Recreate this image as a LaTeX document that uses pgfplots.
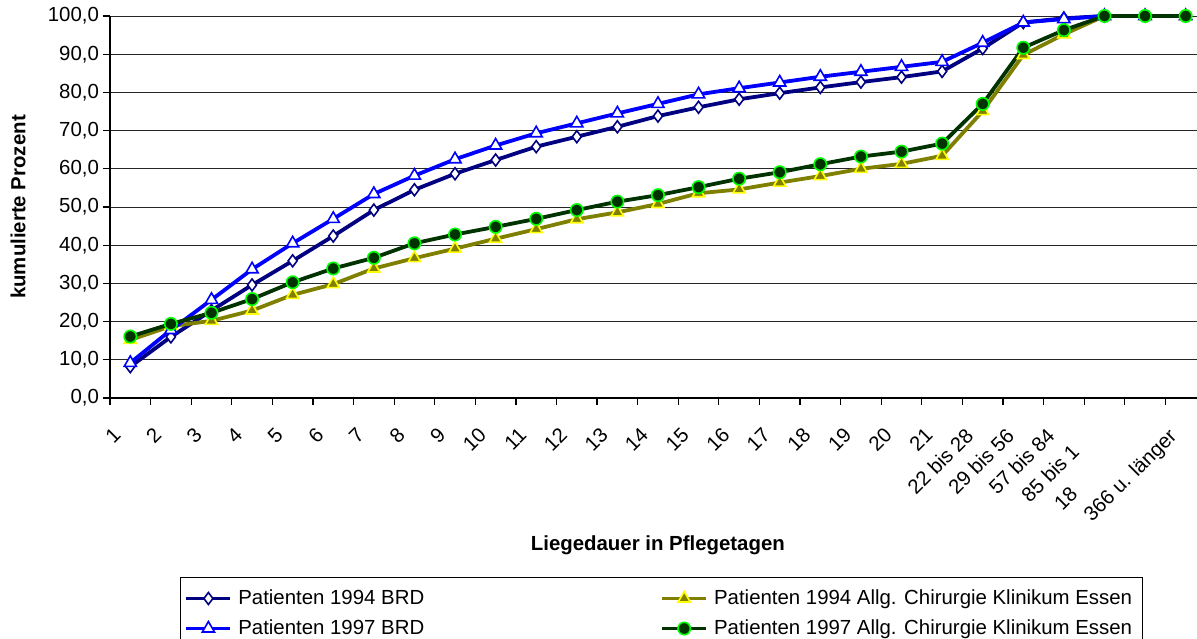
\documentclass[border=0pt]{standalone}
\usepackage{fontspec}
\setmainfont{Liberation Sans}
\usepackage{pgfplots}
\pgfplotsset{compat=1.18}
\definecolor{cNavy}{RGB}{0,0,128}
\definecolor{cBlue}{RGB}{0,0,255}
\definecolor{cOlive}{RGB}{128,128,0}
\definecolor{cYellow}{RGB}{255,255,0}
\definecolor{cDkGreen}{RGB}{0,51,0}
\definecolor{cLime}{RGB}{0,255,0}
\newcommand{\ff}{\fontsize{10.2}{12.2}\selectfont}
\begin{document}
\begin{tikzpicture}
\begin{axis}[
  scale only axis, width=543.5pt, height=191pt,
  xmin=-0.5, xmax=26.28, ymin=0, ymax=100,
  clip=false,
  axis x line*=bottom, axis y line*=left,
  axis line style={-, black, line width=0.6pt},
  tick align=outside,
  major tick length=3.5pt, minor tick length=3.5pt,
  ytick={0,10,...,100},
  xtick={0,...,26},
  xticklabels={1,2,3,4,5,6,7,8,9,10,11,12,13,14,15,16,17,18,19,20,21,22 bis 28,29 bis 56,57 bis 84,85 bis 1\phantom{82},18\phantom{3 bis 365},366 u. länger},
  minor xtick={-0.5,0.5,...,25.5},
  major x tick style={draw=none},
  minor x tick style={black, line width=0.6pt},
  y tick style={black, line width=0.6pt},
  ymajorgrids,
  major grid style={black!85, line width=0.5pt},
  /pgf/number format/assume math mode=true,
  yticklabel style={font=\ff, xshift=1.5pt, /pgf/number format/fixed, /pgf/number format/fixed zerofill, /pgf/number format/precision=1, /pgf/number format/use comma},
  xticklabel style={font=\ff, rotate=45, anchor=north east, inner sep=1pt, xshift=-13pt},
  xlabel={\bfseries Liegedauer in Pflegetagen},
  ylabel={\bfseries kumulierte Prozent},
  xlabel style={font=\ff, at={(axis description cs:0.504,-0.385)}, anchor=center},
  ylabel style={font=\ff, at={(axis description cs:-0.0846,0.5)}, anchor=center},
  legend columns=2,
  legend cell align=left,
  legend image code/.code={\draw[mark repeat=2,mark phase=2] plot coordinates {(0pt,0pt) (11pt,0pt) (22pt,0pt)};},
  legend style={font=\ff, at={(0.0644,-0.4686)}, anchor=north west, draw=black, line width=0.5pt,
    inner xsep=2pt, inner ysep=5.75pt, row sep=5.5pt,
    nodes={inner xsep=3pt, inner ysep=0pt, text height=7.5pt, text depth=2pt},
    /tikz/column 2/.style={column sep=115pt}},
]
\addplot[cNavy, line width=1.9pt, mark=diamond*, mark size=3pt, mark options={fill=white, draw=cNavy, line width=0.8pt}]
coordinates {(0,8.2)(1,16.0)(2,22.9)(3,29.6)(4,35.9)(5,42.4)(6,49.2)(7,54.5)(8,58.7)(9,62.3)(10,65.8)(11,68.4)(12,71.0)(13,73.8)(14,76.1)(15,78.2)(16,79.8)(17,81.3)(18,82.7)(19,84.0)(20,85.5)(21,91.5)(22,98.3)(23,99.4)(24,100)(25,100)(26,100)};
\addlegendentry{Patienten 1994 BRD}
\addplot[cOlive, line width=1.9pt, mark=triangle*, mark size=3.5pt, mark options={fill=cOlive, draw=cYellow, line width=0.8pt}]
coordinates {(0,15.2)(1,18.8)(2,20.2)(3,22.9)(4,27.0)(5,29.8)(6,33.9)(7,36.6)(8,39.1)(9,41.7)(10,44.2)(11,46.8)(12,48.6)(13,50.8)(14,53.6)(15,54.6)(16,56.4)(17,58.1)(18,60.0)(19,61.3)(20,63.4)(21,75.1)(22,89.8)(23,95.2)(24,100)(25,100)(26,100)};
\addlegendentry{Patienten 1994 Allg. Chirurgie Klinikum Essen}
\addplot[cBlue, line width=1.9pt, mark=triangle*, mark size=3.5pt, mark options={fill=white, draw=cBlue, line width=0.8pt}]
coordinates {(0,9.2)(1,17.8)(2,25.7)(3,33.7)(4,40.5)(5,46.9)(6,53.4)(7,58.2)(8,62.5)(9,66.1)(10,69.3)(11,71.9)(12,74.5)(13,77.0)(14,79.5)(15,81.1)(16,82.6)(17,84.1)(18,85.4)(19,86.7)(20,88.0)(21,93.0)(22,98.3)(23,99.2)(24,100)(25,100)(26,100)};
\addlegendentry{Patienten 1997 BRD}
\addplot[cDkGreen, line width=1.9pt, mark=*, mark size=3.1pt, mark options={fill=cDkGreen, draw=cLime, line width=0.8pt}]
coordinates {(0,16.1)(1,19.4)(2,22.3)(3,25.9)(4,30.3)(5,33.9)(6,36.7)(7,40.5)(8,42.8)(9,44.8)(10,46.9)(11,49.2)(12,51.4)(13,53.1)(14,55.2)(15,57.4)(16,59.1)(17,61.2)(18,63.2)(19,64.5)(20,66.6)(21,77.0)(22,91.7)(23,96.3)(24,100)(25,100)(26,100)};
\addlegendentry{Patienten 1997 Allg. Chirurgie Klinikum Essen}
\end{axis}
\pgfresetboundingbox
\path[use as bounding box] (-55pt,-120pt) rectangle (543.5pt,199pt);
\end{tikzpicture}
\end{document}
